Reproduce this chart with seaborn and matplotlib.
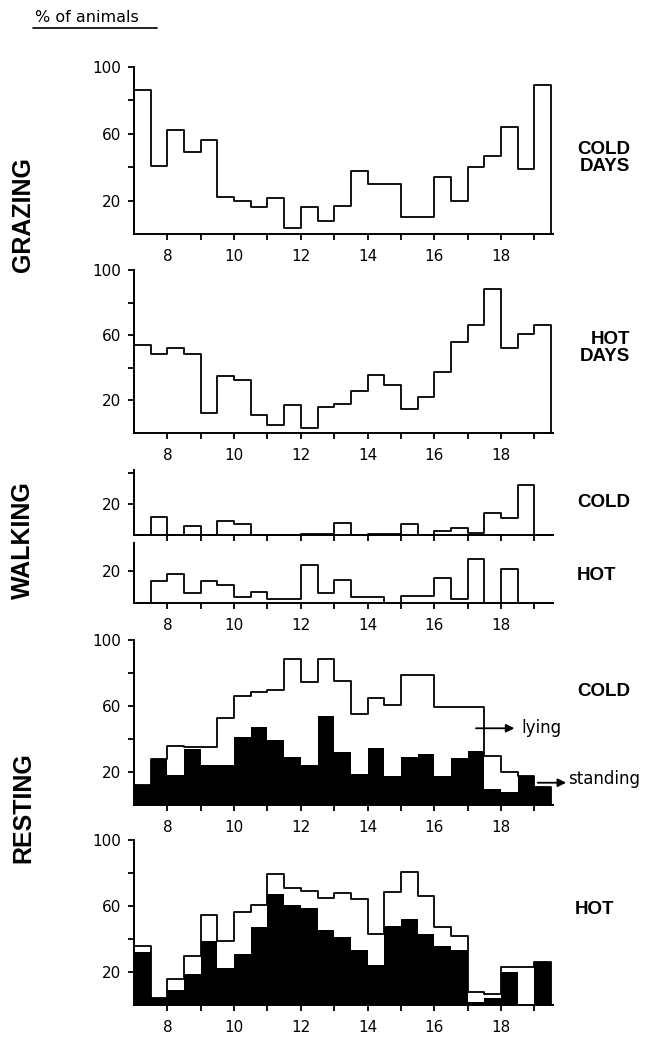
import numpy as np
import pandas as pd
import matplotlib
matplotlib.use("Agg")
import matplotlib.pyplot as plt
import seaborn as sns
from matplotlib.lines import Line2D

# half-hour time slots (start of each slot, hours of the day)
slot_start = [7.0 + 0.5 * i for i in range(25)]
bin_edges = [7.0 + 0.5 * i for i in range(27)]

# % of animals grazing
grazing_cold = [86, 41, 62, 49, 56, 22, 19.5, 16, 21.5, 3.5, 16, 8, 17, 38, 30, 30,
                10, 10, 34, 20, 40, 47, 64, 39, 89]
grazing_hot = [54, 48.5, 52, 48.5, 12.5, 35, 32.5, 11, 5, 17, 3, 16, 17.5, 25.5, 35.5,
               29.5, 14.5, 22, 37.5, 56, 66.5, 88.5, 52, 60.5, 66.5]

# % of animals walking
walking_cold = [0, 11.5, 0, 6, 0, 9, 7, 0, 0, 0, 0.5, 0.5, 8, 0, 0.8, 0.8, 7, 0, 2.5,
                4.3, 1.5, 14.5, 11, 32, 0]
walking_hot = [0, 14, 18, 6, 14, 11, 3.7, 6.8, 2.5, 2.5, 23.7, 6.2, 14.4, 4, 4, 0, 4.5,
               4.5, 15.5, 2.7, 27.4, 0, 21.2, 0, 0]

# % of animals resting: standing (black) and lying (white, stacked on top)
resting_cold_standing = [12, 28, 18, 34, 24, 24, 41.5, 47.5, 39.5, 29, 24.5, 54, 32, 19,
                         34.5, 17.5, 29, 31, 17.5, 28.5, 33, 9.6, 7.8, 17.4, 10.8]
resting_cold_lying = [0, 0, 18, 1, 11, 29, 24.5, 21, 30, 59.5, 50, 34.5, 43, 36, 30.5,
                      43, 50, 48, 42, 31, 26.5, 20.4, 12, 0, 0]
resting_hot_standing = [32, 4, 9, 18.5, 38.5, 22.5, 31, 47.5, 67, 60.5, 59, 45.5, 41.5,
                        33.5, 24, 48, 52, 43, 35.5, 33.5, 2, 4, 20, 0, 26]
resting_hot_lying = [4, 0, 7, 11, 16, 16.5, 25.5, 13, 12.5, 10.5, 10, 19.5, 26.5, 30.5,
                     19, 20.5, 28.5, 23, 12, 8.5, 6, 2.6, 3, 23, 0]

x_major = [8, 10, 12, 14, 16, 18]
x_minor = [9, 11, 13, 15, 17, 19]

sns.set_style("ticks")
plt.rcParams["font.family"] = ["DejaVu Sans"]
plt.rcParams["text.color"] = "black"
plt.rcParams["axes.labelcolor"] = "black"
plt.rcParams["xtick.color"] = "black"
plt.rcParams["ytick.color"] = "black"
plt.rcParams["axes.edgecolor"] = "black"

W, H = 651, 1040
fig = plt.figure(figsize=(W / 100, H / 100), dpi=100)

LEFT = 134 / W
WIDTH = (552.75 - 134) / W


def make_ax(top_px, bottom_px):
    return fig.add_axes([LEFT, 1 - bottom_px / H, WIDTH, (bottom_px - top_px) / H])


def frame(values):
    return pd.DataFrame({"t": [s + 0.25 for s in slot_start],
                         "v": [float(v) for v in values]})


def outline(ax, values):
    sns.histplot(data=frame(values), x="t", weights="v", bins=bin_edges,
                 element="step", fill=False, color="black", linewidth=1.3, ax=ax)


def solid(ax, values):
    sns.histplot(data=frame(values), x="t", weights="v", bins=bin_edges,
                 element="step", fill=True, color="black", alpha=1, linewidth=0, ax=ax)


def style(ax, ymax, yticks, yminor, xlabels=True):
    ax.set_xlim(7, 19.55)
    ax.set_ylim(0, ymax)
    ax.set_xlabel("")
    ax.set_ylabel("")
    ax.set_xticks(x_major)
    ax.set_xticks(x_minor, minor=True)
    ax.set_yticks(yticks)
    ax.set_yticks(yminor, minor=True)
    for side in ("top", "right"):
        ax.spines[side].set_visible(False)
    for side in ("left", "bottom"):
        ax.spines[side].set_linewidth(1.4)
        ax.spines[side].set_color("black")
    ax.tick_params(axis="both", which="both", direction="out", length=4, width=1.3,
                   labelsize=11, colors="black")
    ax.tick_params(axis="x", which="both", pad=7, labelbottom=xlabels)
    ax.tick_params(axis="y", which="both", pad=5)
    ax.set_facecolor("white")


# GRAZING cold
ax1 = make_ax(67, 234)
outline(ax1, grazing_cold)
style(ax1, 100, [20, 60, 100], [40, 80])

# GRAZING hot
ax2 = make_ax(270, 433)
outline(ax2, grazing_hot)
style(ax2, 100, [20, 60, 100], [40, 80])

# WALKING cold
ax3 = make_ax(470, 535)
outline(ax3, walking_cold)
style(ax3, 42, [20], [40], xlabels=False)

# WALKING hot
ax4 = make_ax(543, 603)
outline(ax4, walking_hot)
style(ax4, 37.5, [20], [])

# RESTING cold
ax5 = make_ax(640, 805)
total_cold = [s + l for s, l in zip(resting_cold_standing, resting_cold_lying)]
outline(ax5, total_cold)
solid(ax5, resting_cold_standing)
style(ax5, 100, [20, 60, 100], [40, 80])

# RESTING hot
ax6 = make_ax(840, 1005)
total_hot = [s + l for s, l in zip(resting_hot_standing, resting_hot_lying)]
outline(ax6, total_hot)
solid(ax6, resting_hot_standing)
style(ax6, 100, [20, 60, 100], [40, 80])

# lying / standing annotations
ax5.annotate("", xy=(18.4, 46.5), xytext=(17.25, 46.5),
             arrowprops=dict(arrowstyle="-|>", color="black", lw=1.3,
                             mutation_scale=12, shrinkA=0, shrinkB=0),
             annotation_clip=False)
ax5.text(18.6, 46.5, "lying", fontsize=12, va="center", ha="left", clip_on=False)
ax5.annotate("", xy=(19.95, 13.5), xytext=(19.1, 13.5),
             arrowprops=dict(arrowstyle="-|>", color="black", lw=1.3,
                             mutation_scale=12, shrinkA=0, shrinkB=0),
             annotation_clip=False)
ax5.text(20.0, 15.5, "standing", fontsize=12, va="center", ha="left", clip_on=False)

# side group labels
big = dict(family=["Liberation Sans", "DejaVu Sans"],
           fontweight="bold", fontsize=18, rotation=90, ha="center", va="center")
fig.text(23 / W, 1 - 215 / H, "GRAZING", **big)
fig.text(23 / W, 1 - 540 / H, "WALKING", **big)
fig.text(23 / W, 1 - 808 / H, "RESTING", **big)

# right-hand condition labels
cond = dict(family=["Liberation Sans", "DejaVu Sans"], fontweight="bold",
            fontsize=13.5, va="center")
fig.text(630 / W, 1 - 158 / H, "COLD\nDAYS", ha="right", multialignment="right",
         linespacing=1.05, **cond)
fig.text(630 / W, 1 - 348 / H, "HOT\nDAYS", ha="right", multialignment="right",
         linespacing=1.05, **cond)
fig.text(577 / W, 1 - 502 / H, "COLD", ha="left", **cond)
fig.text(577 / W, 1 - 575 / H, "HOT", ha="left", **cond)
fig.text(577 / W, 1 - 692 / H, "COLD", ha="left", **cond)
fig.text(575 / W, 1 - 910 / H, "HOT", ha="left", **cond)

# y-axis title
fig.text(35 / W, 1 - 17 / H, "% of animals", fontsize=11.5, ha="left", va="center")
fig.add_artist(Line2D([33 / W, 157 / W], [1 - 28 / H, 1 - 28 / H],
                      transform=fig.transFigure, color="black", lw=1.2))

fig.savefig("out.png", dpi=100, facecolor="white")
